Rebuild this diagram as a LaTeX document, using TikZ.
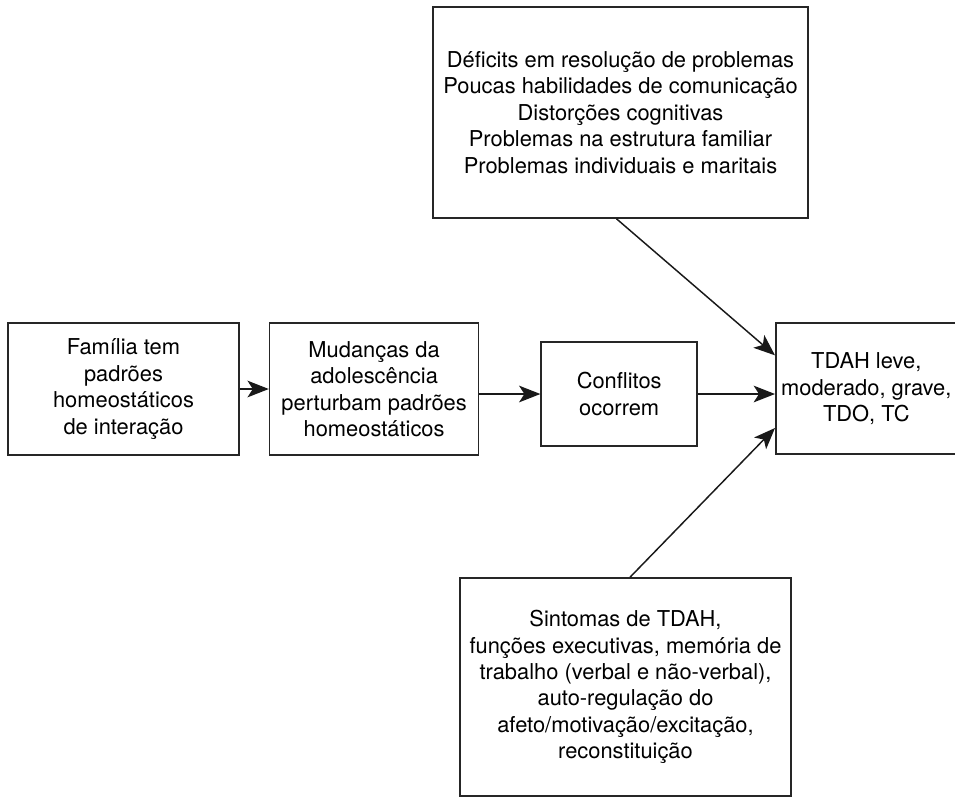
\documentclass[tikz,border=0pt]{standalone}
\usepackage{fontspec}
\setmainfont{TeX Gyre Heros}
\usepackage{tikz}
\usetikzlibrary{arrows.meta, positioning, calc}
\tikzset{
    flowbox/.style={rectangle, draw=black!85, line width=1.2pt, align=center, inner sep=4pt, font=\fontsize{16.4}{19.8}\selectfont},
    flowarrow/.style={-{Stealth[length=16pt, width=12.5pt, inset=4pt]}, line width=1.1pt, black!90}
}

\begin{document}
\begin{tikzpicture}[x=0.75pt, y=-0.75pt]
\useasboundingbox (0,0) rectangle (955,797);

\node[flowbox, minimum width=173.25pt, minimum height=99pt] (familia) at (123.5,389) {Família tem\\padrões\\homeostáticos\\de interação};
\node[flowbox, minimum width=156.75pt, minimum height=99pt, right=21.75pt of familia] (mudancas) {Mudanças da\\adolescência\\perturbam padrões\\homeostáticos};
\node[flowbox, minimum width=117pt, minimum height=78pt, right=45.75pt of mudancas, yshift=-3.75pt] (conflitos) {Conflitos\\ocorrem};
\node[flowbox, minimum width=135.75pt, minimum height=98.25pt, right=57.75pt of conflitos, yshift=4pt] (tdah) {TDAH leve,\\moderado, grave,\\TDO, TC};
\node[flowbox, minimum width=281.25pt, minimum height=158.25pt] (deficits) at (620.5,112.5) {Déficits em resolução de problemas\\Poucas habilidades de comunicação\\Distorções cognitivas\\Problemas na estrutura familiar\\Problemas individuais e maritais};
\node[flowbox, minimum width=248.25pt, minimum height=163.5pt] (sintomas) at (625.5,687) {Sintomas de TDAH,\\funções executivas, memória de\\trabalho (verbal e não-verbal),\\auto-regulação do\\afeto/motivação/excitação,\\reconstituição};

\draw[flowarrow] (familia) -- (mudancas);
\draw[flowarrow] (mudancas.east |- conflitos) -- (conflitos);
\draw[flowarrow] (conflitos) -- (conflitos -| tdah.west);
\draw[flowarrow] ([xshift=-3pt]deficits.south) -- ([yshift=25pt]tdah.west);
\draw[flowarrow] ([xshift=3.4pt]sintomas.north) -- ([yshift=-29.5pt]tdah.west);

\end{tikzpicture}
\end{document}
